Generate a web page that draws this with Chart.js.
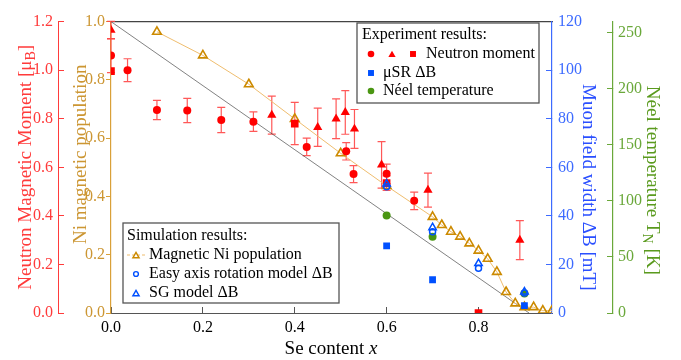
<!DOCTYPE html>
<html>
<head>
<meta charset="utf-8">
<script src="https://cdn.jsdelivr.net/npm/chart.js@4.4.0/dist/chart.umd.min.js"></script>
<style>
  html, body { margin: 0; padding: 0; background: #fff; }
  #wrap { width: 681px; height: 360px; }
</style>
</head>
<body>
<div id="wrap"><canvas id="chart" width="681" height="360"></canvas></div>
<script>
/* ---------------- data ---------------- */
// neutron moment (μB), three sample sets
const nCircleX   = [0, 0.036, 0.1, 0.166, 0.24, 0.31, 0.426, 0.512, 0.528, 0.6, 0.66];
const nCircleY   = [1.06, 1.0, 0.836, 0.834, 0.795, 0.788, 0.684, 0.666, 0.572, 0.573, 0.462];
const nCircleErr = [0.07, 0.047, 0.04, 0.05, 0.052, 0.04, 0.036, 0.036, 0.035, 0.04, 0.036];

const nTriX   = [0, 0.35, 0.45, 0.49, 0.51, 0.53, 0.589, 0.69, 0.89];
const nTriY   = [1.165, 0.815, 0.765, 0.8, 0.826, 0.758, 0.61, 0.506, 0.3];
const nTriErr = [0.036, 0.078, 0.079, 0.082, 0.09, 0.08, 0.096, 0.07, 0.08];

const nSqX   = [0, 0.4, 0.6, 0.8];
const nSqY   = [0.996, 0.78, 0.535, 0.0];
const nSqErr = [0, 0.087, 0.03, 0];

// muSR field width (mT)
const musrX = [0.6, 0.7, 0.9];
const musrY = [27.6, 13.7, 3.0];

// Neel temperature (K)
const neelX = [0.6, 0.7, 0.9];
const neelY = [87, 68, 17.5];

// simulations
const niPopX = [0.1, 0.2, 0.3, 0.4, 0.5, 0.6, 0.7, 0.72, 0.74, 0.76, 0.78, 0.8, 0.82, 0.84, 0.86, 0.88, 0.9, 0.92, 0.94, 0.96];
const niPopY = [0.965, 0.884, 0.785, 0.666, 0.548, 0.436, 0.33, 0.302, 0.279, 0.262, 0.239, 0.214, 0.186, 0.141, 0.072, 0.033, 0.02, 0.02, 0.008, 0.008];

const easyX = [0.6, 0.7, 0.8, 0.9];
const easyY = [52, 33.5, 18.4, 8.2];

const sgX = [0.6, 0.7, 0.8, 0.9];
const sgY = [53.2, 35.2, 20.4, 8.7];

const refLineX = [0, 0.91];
const refLineY = [1, 0];

// tick ranges
const xTicks   = { min: 0, max: 0.96, step: 0.2 };
const nTicks   = { min: 0, max: 1.2, step: 0.2 };
const niTicks  = { min: 0, max: 1.0, step: 0.2 };
const dBTicks  = { min: 0, max: 120, step: 20 };
const tNTicks  = { min: 0, max: 260, step: 50 };

/* ---------------- styles ---------------- */
const SERIF = 'Liberation Serif';
const RED = '#ff0000', RED_AX = '#ff3b3b', RED_ERR = 'rgba(255,70,70,0.9)';
const ORG = '#cc8a00', ORG_AX = '#d9a038', ORG_TXT = '#cc9633', ORG_LINE = '#efbd6e';
const BLU = '#0050ff', BLU_AX = '#3d6bff', BLU_TXT = '#2a4fff';
const GRN = '#4a9612', GRN_AX = '#6aa83a', GRN_TXT = '#5a9a1e';

const pts = (xs, ys) => xs.map((x, i) => ({ x: x, y: ys[i] }));

/* error bars drawn behind the markers */
const errorBars = {
  id: 'errorBars',
  beforeDatasetsDraw(chart) {
    const ctx = chart.ctx;
    chart.data.datasets.forEach((ds, i) => {
      if (!ds.errors) return;
      const meta = chart.getDatasetMeta(i);
      const ys = chart.scales[ds.yAxisID];
      ctx.save();
      ctx.strokeStyle = RED_ERR;
      ctx.lineWidth = 1.2;
      meta.data.forEach((el, j) => {
        const e = ds.errors[j];
        if (!e) return;
        const v = ds.data[j].y;
        const t = ys.getPixelForValue(v + e), b = ys.getPixelForValue(v - e);
        ctx.beginPath();
        ctx.moveTo(el.x, t); ctx.lineTo(el.x, b);
        ctx.moveTo(el.x - 4, t); ctx.lineTo(el.x + 4, t);
        ctx.moveTo(el.x - 4, b); ctx.lineTo(el.x + 4, b);
        ctx.stroke();
      });
      ctx.restore();
    });
  }
};

/* text with sub-scripts / italics */
function richText(ctx, parts, cx, cy, angle, size, color) {
  ctx.save();
  ctx.translate(cx, cy);
  ctx.rotate(angle);
  ctx.fillStyle = color;
  ctx.textBaseline = 'alphabetic';
  const fontOf = p => (p.i ? 'italic ' : '') + Math.round(p.sub ? size * 0.72 : size) + 'px "' + SERIF + '"';
  let total = 0;
  parts.forEach(p => { ctx.font = fontOf(p); p.w = ctx.measureText(p.t).width; total += p.w; });
  let x = -total / 2;
  parts.forEach(p => {
    ctx.font = fontOf(p);
    ctx.fillText(p.t, x, size * 0.33 + (p.sub ? size * 0.22 : 0));
    x += p.w;
  });
  ctx.restore();
}

const axisTitles = {
  id: 'axisTitles',
  afterDraw(chart) {
    const ctx = chart.ctx, s = chart.scales, a = chart.chartArea;
    const mid = (a.top + a.bottom) / 2;
    richText(ctx, [{ t: 'Neutron Magnetic Moment [μ' }, { t: 'B', sub: true }, { t: ']' }],
      s.yN.left + 25, mid, -Math.PI / 2, 19, RED_AX);
    richText(ctx, [{ t: 'Ni magnetic population' }], s.yNi.left + 22, mid - 13, -Math.PI / 2, 19, ORG_TXT);
    richText(ctx, [{ t: 'Muon field width ΔB [mT]' }], s.yB.left + 37, mid + 20, Math.PI / 2, 19, BLU_TXT);
    richText(ctx, [{ t: 'Néel temperature T' }, { t: 'N', sub: true }, { t: ' [K]' }],
      s.yT.left + 40, mid + 13, Math.PI / 2, 19, GRN_TXT);
    richText(ctx, [{ t: 'Se content ' }, { t: 'x', i: true }], 331, s.x.bottom - 12, 0, 19, '#000');
  }
};

/* the two framed legends inside the plot */
function marker(ctx, style, r, fill, stroke, bw, x, y) {
  ctx.save();
  ctx.fillStyle = fill;
  ctx.strokeStyle = stroke;
  ctx.lineWidth = bw;
  Chart.helpers.drawPoint(ctx, { pointStyle: style, radius: r, borderWidth: bw, rotation: 0 }, x, y);
  ctx.restore();
}

const legends = {
  id: 'legends',
  afterDraw(chart) {
    const ctx = chart.ctx;
    ctx.save();
    ctx.font = '16px "' + SERIF + '"';
    ctx.textBaseline = 'middle';
    ctx.fillStyle = '#fff';
    ctx.strokeStyle = '#555';
    ctx.lineWidth = 1.3;

    // experiment
    ctx.fillRect(357, 23, 182, 80); ctx.strokeRect(357, 23, 182, 80);
    ctx.fillStyle = '#000';
    ctx.fillText('Experiment results:', 362, 35);
    ctx.fillText('Neutron moment', 426, 54);
    ctx.fillText('μSR ΔB', 383, 73);
    ctx.fillText('Néel temperature', 383, 91);
    marker(ctx, 'circle', 3.3, RED, RED, 0, 371, 54);
    marker(ctx, 'triangle', 4.2, RED, RED, 0, 392, 55);
    marker(ctx, 'rect', 4.2, RED, RED, 0, 413, 54);
    marker(ctx, 'rect', 4.2, BLU, BLU, 0, 371, 73);
    marker(ctx, 'circle', 3.3, GRN, GRN, 0, 371, 91);

    // simulation
    ctx.fillStyle = '#fff';
    ctx.fillRect(123, 223, 216, 80); ctx.strokeRect(123, 223, 216, 80);
    ctx.fillStyle = '#000';
    ctx.fillText('Simulation results:', 127, 236);
    ctx.fillText('Magnetic Ni population', 149, 255);
    ctx.fillText('Easy axis rotation model ΔB', 149, 274);
    ctx.fillText('SG model ΔB', 149, 293);
    ctx.strokeStyle = ORG_LINE; ctx.lineWidth = 1;
    ctx.setLineDash([3, 2]);
    ctx.beginPath(); ctx.moveTo(127, 255); ctx.lineTo(146, 255); ctx.stroke();
    ctx.setLineDash([]);
    marker(ctx, 'triangle', 3.6, '#fff', ORG, 1.4, 136, 256);
    marker(ctx, 'circle', 2.4, 'rgba(0,0,0,0)', BLU, 1.4, 136, 274);
    marker(ctx, 'triangle', 3.6, 'rgba(0,0,0,0)', BLU, 1.4, 136, 294);
    ctx.restore();
  }
};

/* ---------------- chart ---------------- */
const tickFont = { family: SERIF, size: 16 };
const fixed1 = v => Number(v).toFixed(1);

new Chart(document.getElementById('chart'), {
  type: 'scatter',
  data: {
    datasets: [
      { label: 'SG model ΔB', data: pts(sgX, sgY), yAxisID: 'yB',
        pointStyle: 'triangle', pointRadius: 4.3, borderColor: BLU, backgroundColor: 'rgba(0,0,0,0)', borderWidth: 1.5 },
      { label: 'Easy axis rotation model ΔB', data: pts(easyX, easyY), yAxisID: 'yB',
        pointStyle: 'circle', pointRadius: 3, borderColor: BLU, backgroundColor: 'rgba(0,0,0,0)', borderWidth: 1.5 },
      { label: 'Néel temperature', data: pts(neelX, neelY), yAxisID: 'yT',
        pointStyle: 'circle', pointRadius: 4, backgroundColor: GRN, borderWidth: 0 },
      { label: 'μSR ΔB', data: pts(musrX, musrY), yAxisID: 'yB',
        pointStyle: 'rect', pointRadius: 4.8, backgroundColor: BLU, borderWidth: 0 },
      { label: 'Neutron moment (triangles)', data: pts(nTriX, nTriY), errors: nTriErr, yAxisID: 'yN',
        pointStyle: 'triangle', pointRadius: 5.3, backgroundColor: RED, borderWidth: 0 },
      { label: 'Neutron moment (circles)', data: pts(nCircleX, nCircleY), errors: nCircleErr, yAxisID: 'yN',
        pointStyle: 'circle', pointRadius: 4, backgroundColor: RED, borderWidth: 0 },
      { label: 'Neutron moment (squares)', data: pts(nSqX, nSqY), errors: nSqErr, yAxisID: 'yN',
        pointStyle: 'rect', pointRadius: 5.4, backgroundColor: RED, borderWidth: 0 },
      { label: 'Magnetic Ni population', data: pts(niPopX, niPopY), yAxisID: 'yNi', showLine: true,
        borderColor: ORG_LINE, borderWidth: 1, pointStyle: 'triangle', pointRadius: 5,
        pointBorderColor: ORG, pointBackgroundColor: 'rgba(0,0,0,0)', pointBorderWidth: 1.6 },
      { label: 'reference', data: pts(refLineX, refLineY), yAxisID: 'yNi', showLine: true,
        borderColor: 'rgba(70,70,70,0.85)', borderWidth: 0.8, pointRadius: 0 }
    ]
  },
  options: {
    responsive: false,
    animation: false,
    events: [],
    layout: { padding: { top: 17, left: 0, right: 0, bottom: 0 } },
    plugins: { legend: { display: false }, tooltip: { enabled: false } },
    scales: {
      x: {
        type: 'linear', position: 'bottom', min: xTicks.min, max: xTicks.max,
        ticks: { stepSize: xTicks.step, includeBounds: false, padding: 11, color: '#000', font: tickFont,
                 maxRotation: 0, callback: fixed1 },
        grid: { drawOnChartArea: false, tickLength: -6, color: '#555' },
        border: { color: '#555', width: 1 },
        afterFit: s => { s.height = 47; }
      },
      xTop: {
        type: 'linear', position: 'top', min: xTicks.min, max: xTicks.max,
        ticks: { display: false },
        grid: { drawOnChartArea: false, drawTicks: false },
        border: { color: '#444', width: 1.2 },
        afterFit: s => { s.height = 0; }
      },
      yN: {
        type: 'linear', position: 'left', weight: 2, min: nTicks.min, max: nTicks.max,
        ticks: { stepSize: nTicks.step, includeBounds: false, padding: 11, color: RED_AX, font: tickFont, callback: fixed1 },
        grid: { drawOnChartArea: false, tickLength: -6, color: RED_AX },
        border: { color: RED_AX, width: 1 },
        afterFit: s => { s.width = 58; }
      },
      yNi: {
        type: 'linear', position: 'left', weight: 1, min: niTicks.min, max: niTicks.max,
        ticks: { stepSize: niTicks.step, includeBounds: false, padding: 1, color: ORG_TXT, font: tickFont, callback: fixed1 },
        grid: { drawOnChartArea: false, tickLength: 5, color: ORG_AX },
        border: { color: ORG_AX, width: 1.2 },
        afterFit: s => { s.width = 53; }
      },
      yB: {
        type: 'linear', position: 'right', weight: 1, min: dBTicks.min, max: dBTicks.max,
        ticks: { stepSize: dBTicks.step, includeBounds: false, padding: 12, color: BLU_AX, font: tickFont },
        grid: { drawOnChartArea: false, tickLength: -6, color: BLU_AX },
        border: { color: BLU_AX, width: 1.2 },
        afterFit: s => { s.width = 61; }
      },
      yT: {
        type: 'linear', position: 'right', weight: 2, min: tNTicks.min, max: tNTicks.max,
        ticks: { stepSize: tNTicks.step, includeBounds: false, padding: 11, color: GRN_AX, font: tickFont },
        grid: { drawOnChartArea: false, tickLength: -6, color: GRN_AX },
        border: { color: GRN_AX, width: 1.2 },
        afterFit: s => { s.width = 68; }
      }
    }
  },
  plugins: [errorBars, axisTitles, legends]
});
</script>
</body>
</html>
